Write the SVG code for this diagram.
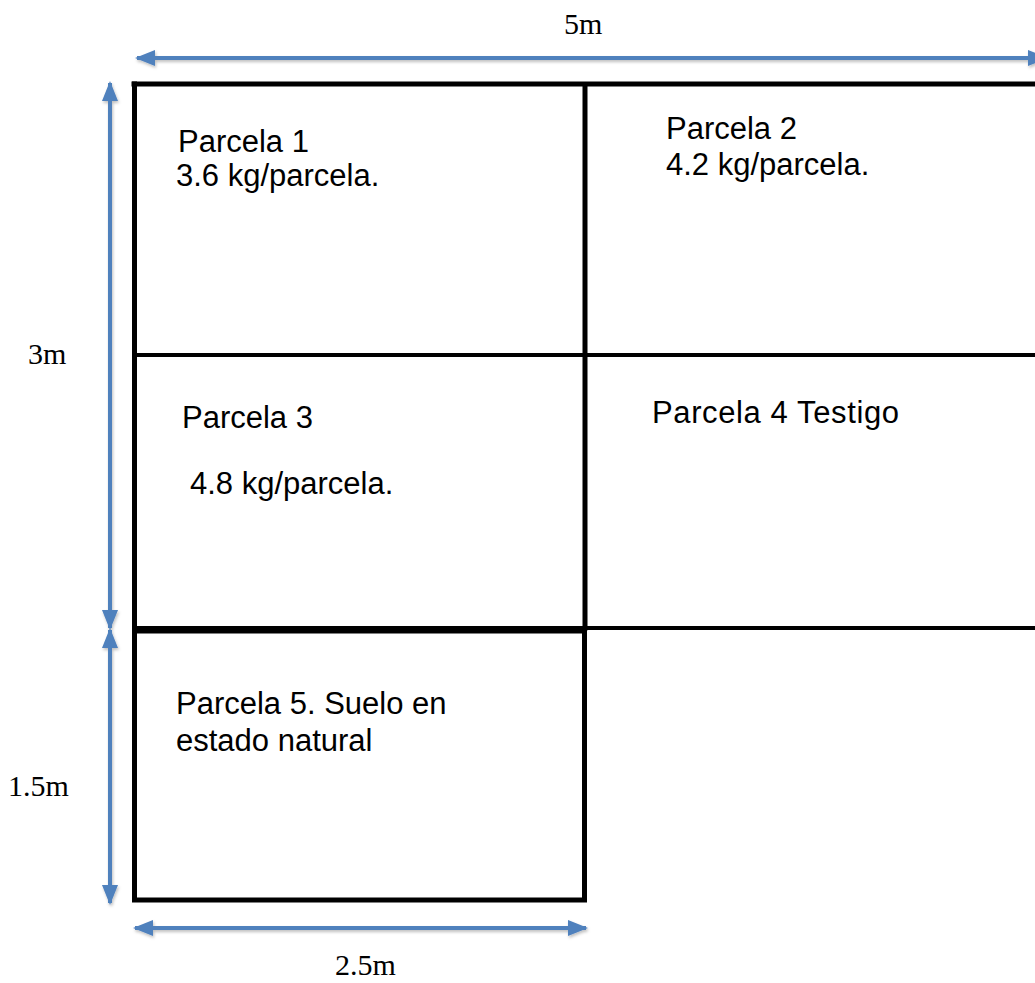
<svg xmlns="http://www.w3.org/2000/svg" width="1035" height="983" viewBox="0 0 1035 983">
<style>
.grid{stroke:#000;fill:none;stroke-linecap:square}
.dim{stroke:#4F81BD;stroke-width:4;fill:none}
.lbl{font-family:"Liberation Sans",Arial,sans-serif;font-size:31px;fill:#000}
.dimtxt{font-family:"Liberation Serif","Times New Roman",serif;font-size:30px;fill:#000}
</style>
<defs>
<marker id="ah" markerUnits="userSpaceOnUse" markerWidth="20" markerHeight="16" viewBox="0 0 20 16" refX="18" refY="8" orient="auto-start-reverse">
<path d="M0,0 L20,8 L0,16 Z" fill="#4F81BD"/>
</marker>
<filter id="sh" x="-5%" y="-50%" width="110%" height="200%">
<feDropShadow dx="1" dy="2" stdDeviation="1.5" flood-color="#000" flood-opacity="0.25"/>
</filter>
</defs>
<g id="grid">
<line class="grid" x1="134" y1="84" x2="1040" y2="84" stroke-width="5"/>
<line class="grid" x1="134.5" y1="84" x2="134.5" y2="628" stroke-width="5"/>
<line class="grid" x1="585" y1="88" x2="585" y2="628" stroke-width="5"/>
<line class="grid" x1="134" y1="355" x2="1040" y2="355" stroke-width="4"/>
<line class="grid" x1="134" y1="628" x2="1040" y2="628" stroke-width="4"/>
</g>
<g id="parcela1">
<text class="lbl" x="178" y="152">Parcela 1</text>
<text class="lbl" x="176" y="186">3.6 kg/parcela.</text>
</g>
<g id="parcela2">
<text class="lbl" x="666" y="139">Parcela 2</text>
<text class="lbl" x="666" y="175">4.2 kg/parcela.</text>
</g>
<g id="parcela3">
<text class="lbl" x="182" y="428">Parcela 3</text>
<text class="lbl" x="190" y="494">4.8 kg/parcela.</text>
</g>
<g id="parcela4">
<text class="lbl" x="652" y="423" textLength="247">Parcela 4 Testigo</text>
</g>
<g id="parcela5">
<rect class="grid" x="134.5" y="631" width="450" height="269" stroke-width="5"/>
<text class="lbl" x="176" y="714">Parcela 5. Suelo en</text>
<text class="lbl" x="176" y="751">estado natural</text>
</g>
<g id="connectors" filter="url(#sh)">
<line class="dim" x1="137" y1="58" x2="1046" y2="58" marker-start="url(#ah)" marker-end="url(#ah)"/>
<line class="dim" x1="110" y1="83" x2="110" y2="628" marker-start="url(#ah)" marker-end="url(#ah)"/>
<line class="dim" x1="110" y1="630" x2="110" y2="903" marker-start="url(#ah)" marker-end="url(#ah)"/>
<line class="dim" x1="135" y1="928" x2="586" y2="928" marker-start="url(#ah)" marker-end="url(#ah)"/>
</g>
<g id="labels">
<text class="dimtxt" x="564" y="34">5m</text>
<text class="dimtxt" x="28" y="364">3m</text>
<text class="dimtxt" x="8" y="796">1.5m</text>
<text class="dimtxt" x="335" y="975">2.5m</text>
</g>
</svg>
